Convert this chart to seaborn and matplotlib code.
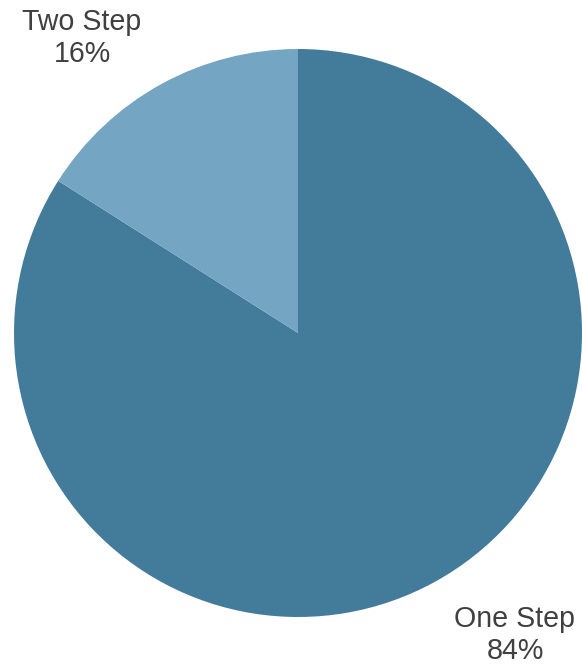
import matplotlib
matplotlib.use("Agg")
import matplotlib.pyplot as plt
import seaborn as sns

# Share of processes by number of steps
categories = ["One Step", "Two Step"]
shares = [84, 16]
colors = ["#437B9A", "#74A5C2"]

sns.set_theme(style="white")
plt.rcParams["font.family"] = ["Liberation Sans", "DejaVu Sans"]

W, H, DPI = 582, 665, 100
fig = plt.figure(figsize=(W / DPI, H / DPI), dpi=DPI)
ax = fig.add_axes([0, 0, 1, 1])

# pie centre and radius in pixels
cx, cy, r = 298, 333, 284

ax.pie(shares, colors=colors, startangle=90, counterclock=False,
       radius=1, center=(0, 0), wedgeprops=dict(linewidth=0))

ax.set_xlim(-cx / r, (W - cx) / r)
ax.set_ylim(-(H - cy) / r, cy / r)
ax.set_aspect("equal")
ax.axis("off")

label_pos = {"Two Step": (82, 38), "One Step": (515, 635)}
for name, val in zip(categories, shares):
    px, py = label_pos[name]
    ax.text((px - cx) / r, (cy - py) / r, f"{name}\n{val}%",
            ha="center", va="center", fontsize=20.6, color="#404040",
            linespacing=1.22)

fig.savefig("out.png", dpi=DPI)
